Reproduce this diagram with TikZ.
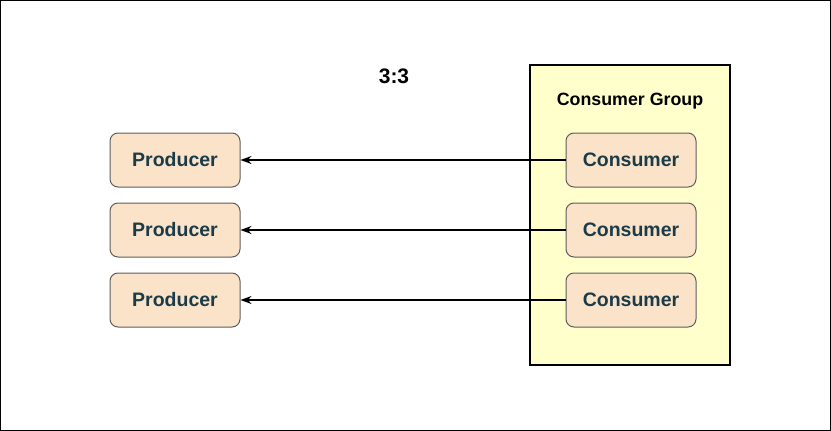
\documentclass[tikz,border=0pt]{standalone}
\usepackage{fontspec}
\setmainfont{Liberation Sans}
\usetikzlibrary{arrows.meta}

\definecolor{boxfill}{HTML}{FAE3C8}
\definecolor{boxline}{HTML}{5E5E5E}
\definecolor{boxtext}{HTML}{1B3B48}
\definecolor{groupfill}{HTML}{FFFFCC}

\tikzset{
    member/.style={draw=boxline, fill=boxfill, rounded corners=8pt, line width=1pt,
        minimum width=130pt, minimum height=54pt, text=boxtext,
        font=\fontsize{19.5}{22}\selectfont\bfseries},
    link/.style={-{Stealth[length=11pt,width=8pt]}, line width=1.2pt}
}

\begin{document}
\begin{tikzpicture}[x=1pt, y=-1pt]
    \useasboundingbox (0,0) rectangle (831,431);
    \draw[line width=1pt](0.5,0.5) rectangle (830.5,430.5);

    \node[font=\fontsize{21}{24}\selectfont\bfseries](ratio)at(394,76){3:3};

    \draw[fill=groupfill, line width=1.5pt](530,65) rectangle (730,365);
    \node[font=\fontsize{17.8}{20}\selectfont\bfseries](group)at(630,101){Consumer Group};

    \foreach \i/\y in {1/160, 2/230, 3/300}{
        \node[member](prod\i)at(175,\y){Producer};
        \node[member](cons\i)at(631,\y){Consumer};
        \draw[link](cons\i)--(prod\i);
    }
\end{tikzpicture}
\end{document}
